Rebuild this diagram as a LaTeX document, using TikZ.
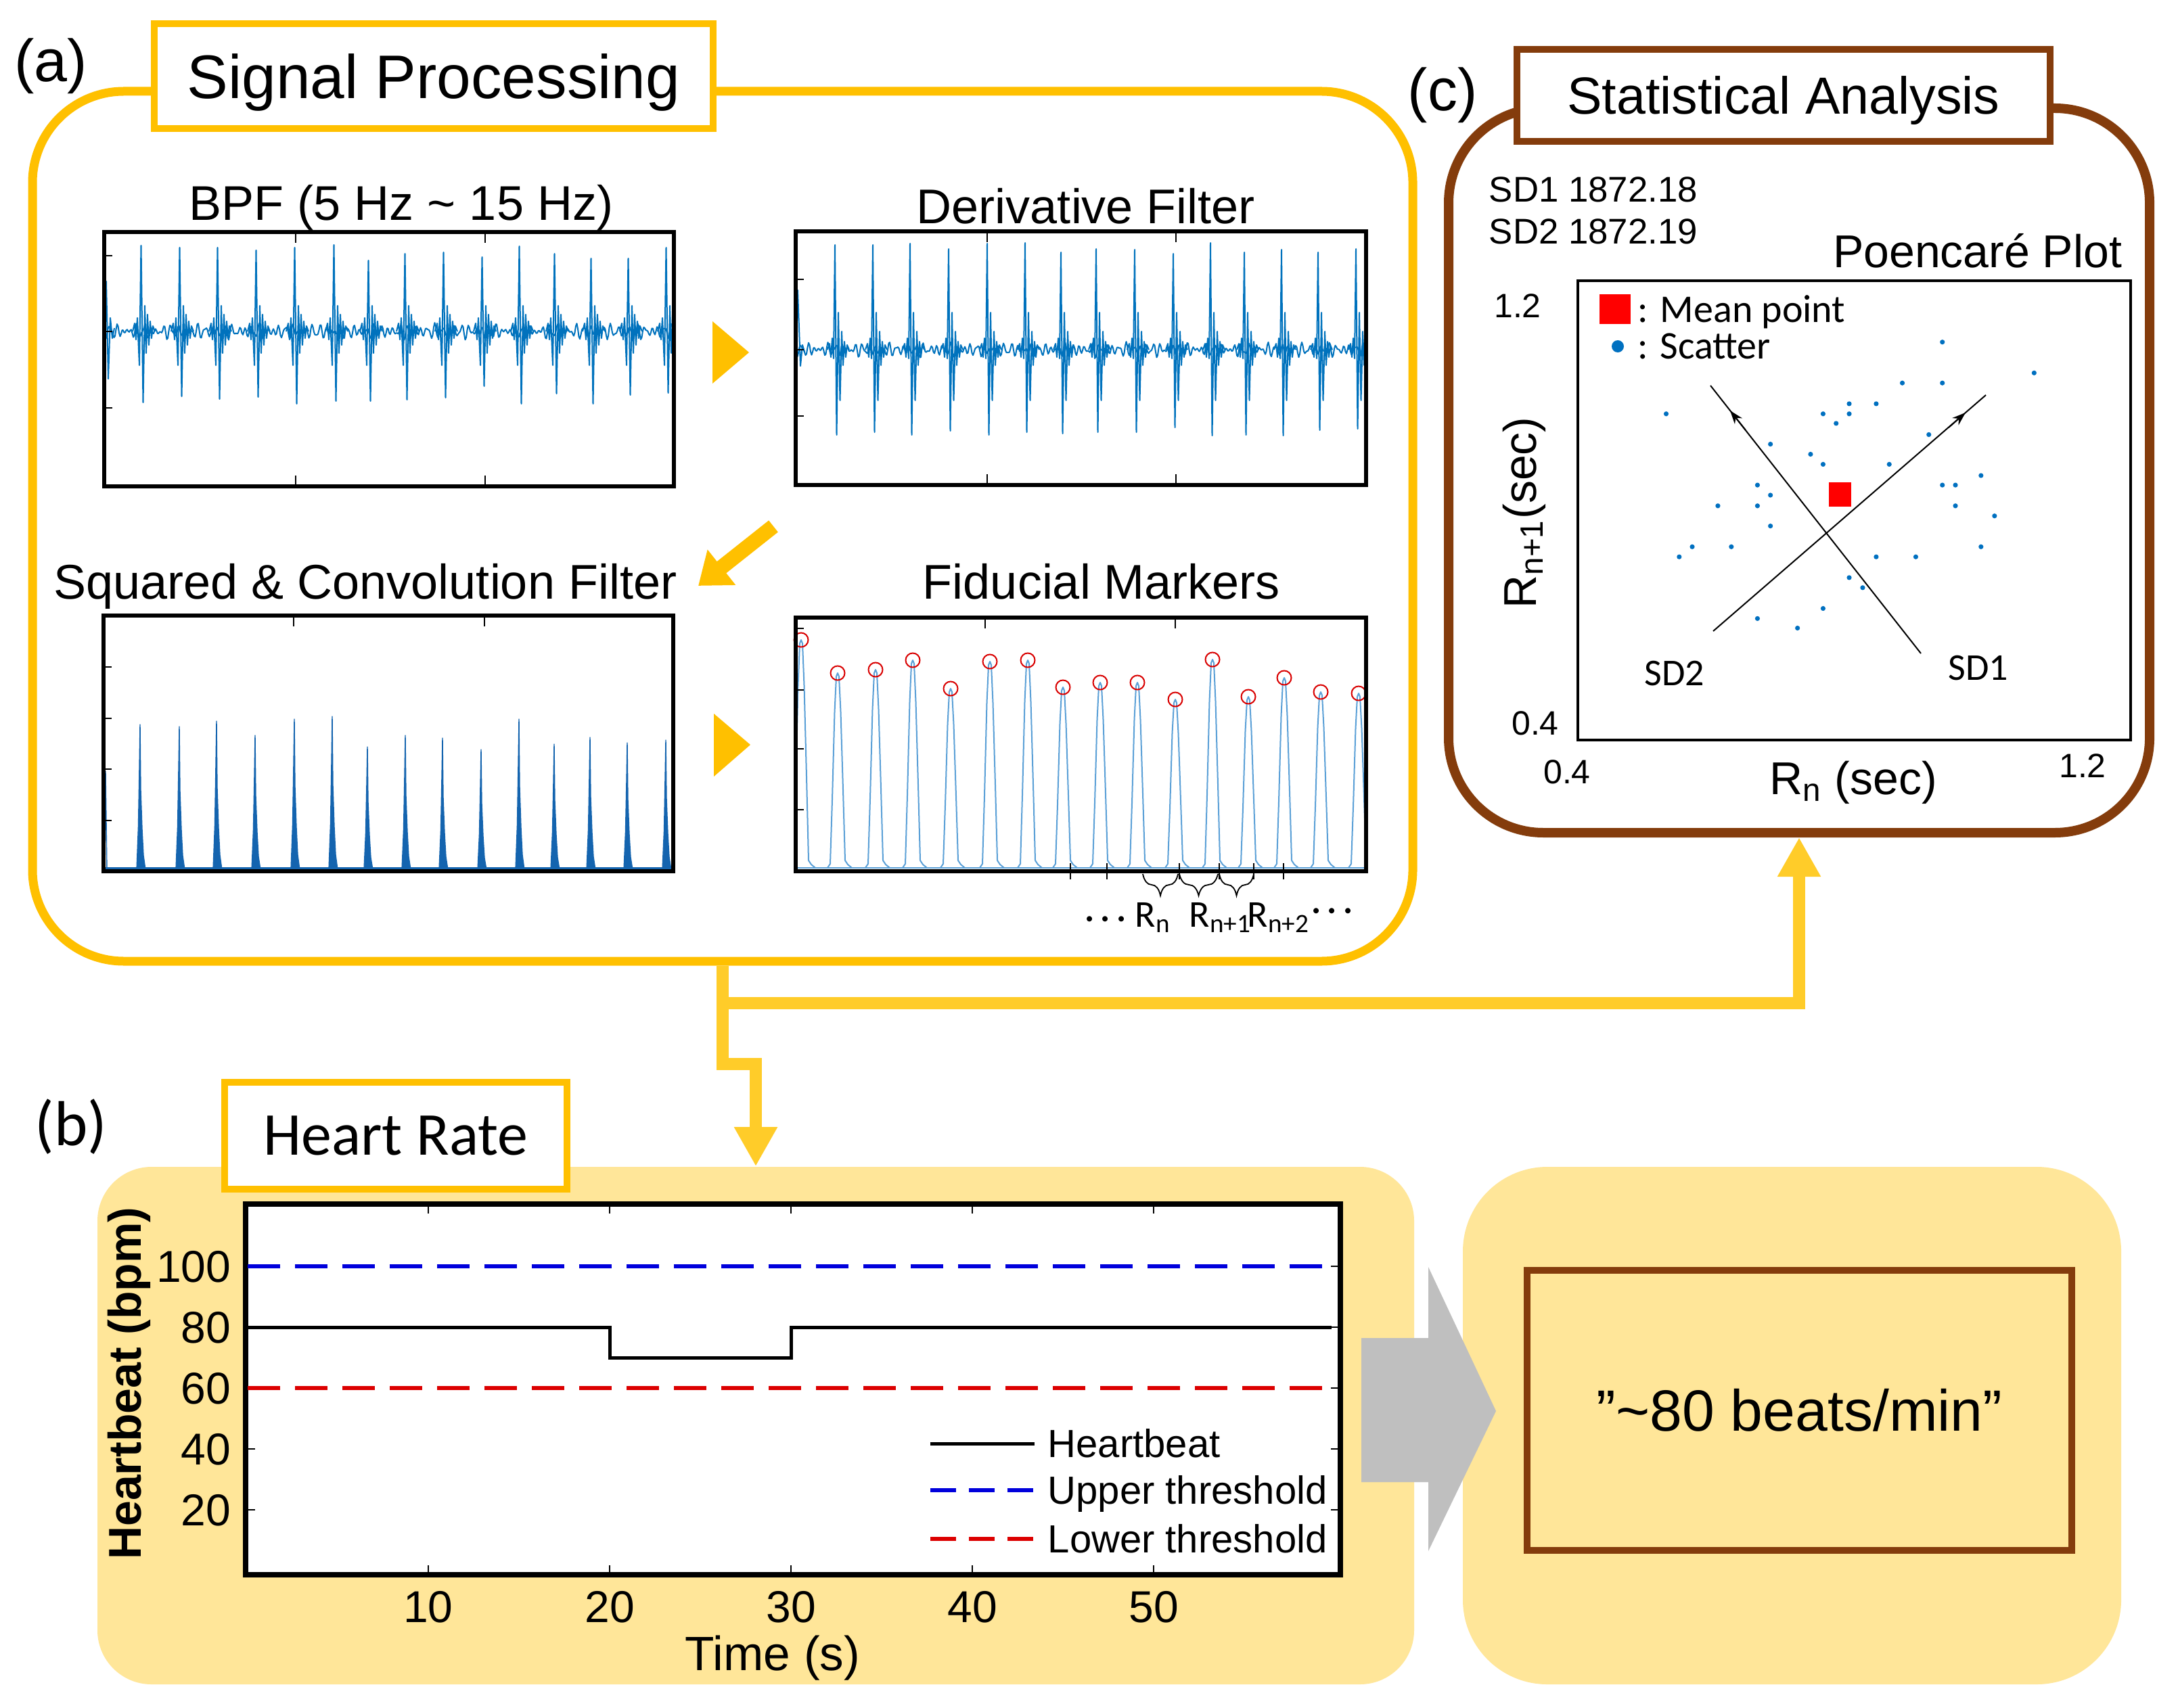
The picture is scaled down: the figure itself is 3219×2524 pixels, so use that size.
\documentclass[tikz,border=0pt]{standalone}
\usepackage{fontspec}
\setmainfont{Liberation Sans}
\newfontfamily\calfont{Carlito}
\usetikzlibrary{arrows.meta,decorations.pathreplacing}
\definecolor{gold}{HTML}{FFC000}
\definecolor{conncol}{HTML}{FFCC29}
\definecolor{brownc}{HTML}{843C0C}
\definecolor{paleyel}{HTML}{FFE699}
\definecolor{greyarr}{HTML}{BFBFBF}
\definecolor{sigblue}{RGB}{0,114,189}
\definecolor{sqblue}{RGB}{20,100,175}
\definecolor{fidblue}{RGB}{91,160,215}
\definecolor{dotblue}{RGB}{0,112,192}
\definecolor{hrblue}{RGB}{0,0,220}
\definecolor{hrred}{RGB}{220,0,0}
\newcommand{\fsz}[1]{\fontsize{#1}{#1}\selectfont}
\begin{document}
\begin{tikzpicture}[x=0.25pt,y=-0.25pt,
  capc/.style={inner sep=0pt, font=\fsz{#1}, text height={0.716*#1}, text depth=0pt},
  calcap/.style={inner sep=0pt, font=\calfont\fsz{#1}, text height={0.644*#1}, text depth=0pt},
  sig/.style={draw=sigblue, line width=0.5pt, line join=round},
  fidsig/.style={draw=fidblue, line width=0.5pt, line join=round},
  pframe/.style={draw=black, line width=1.3pt},
  tk/.style={draw=black, line width=0.45pt},
  conn/.style={draw=conncol, line width=4.5pt},
  conntip/.style={-{Triangle[width=15pt,length=14.5pt]}},
  ptitle/.style={capc=18pt},
  hrtick/.style={capc=16.5pt},
  legtxt/.style={capc=14.5pt, anchor=west},
  pctick/.style={capc=12.5pt},
]
\useasboundingbox (0,0) rectangle (3219,2524);
\fill[white] (0,0) rectangle (3219,2524);

% ================= (a) Signal processing =================
\node[draw=gold, line width=3.25pt, rounded corners=33.75pt, minimum width=510pt, minimum height=321.5pt, inner sep=0pt] (procbox) at (1068,778) {};
\node[draw=gold, fill=white, line width=2.5pt, minimum width=206.5pt, minimum height=38.75pt, capc=22.75pt] (sptitle) at (641,112.5) {Signal Processing};
\node[inner sep=0pt, font=\fsz{22pt}] (alabel) at (75,98) {(a)};

% titles
\node[ptitle] (bpft) at (593,300) {BPF (5 Hz \textasciitilde\ 15 Hz)};
\node[ptitle] (dert) at (1605,305) {Derivative Filter};
\node[ptitle] (sqt) at (540,860) {Squared \& Convolution Filter};
\node[ptitle] (fidt) at (1628,860) {Fiducial Markers};

% BPF plot
\begin{scope}
\clip (154,343) rectangle (996,719);
\draw[sig] plot[domain=0:840, samples=561] ({155+\x},{490+5*sin(36*mod(\x,10))+4*sin(51.43*mod(\x,7)+40)+4*sin(27.69*mod(\x,13)+80)});
\draw[sig] (155,490) -- (157,416) -- (160,560) -- (163,470) -- (166,500) -- (169,485);
\foreach \x/\t/\b in {210/363/595, 267/366/586, 323/366/590, 380/370/587, 437/366/597, 495/362/593, 546/385/593, 600/375/591, 657/373/588, 714/380/571, 769/364/597, 821/375/582, 875/382/597, 930/382/584, 986/366/581}
  \draw[sig] (\x-14,490) -- (\x-11,478) -- (\x-9,502) -- (\x-7,470) -- (\x-4,540) -- (\x-1.5,\t) -- (\x+1.5,\b) -- (\x+4,452) -- (\x+6,522) -- (\x+8,465) -- (\x+10,510) -- (\x+12,475) -- (\x+14,500) -- (\x+16,482) -- (\x+19,490);
\end{scope}
\draw[pframe] (154,343) rectangle (996,719);
\foreach \y in {378,490,603} \draw[tk] (154,\y) -- ++(12,0);
\foreach \x in {437,717} {\draw[tk] (\x,343) -- ++(0,16); \draw[tk] (\x,719) -- ++(0,-16);}

% Derivative plot
\begin{scope}
\clip (1176,342) rectangle (2019,717);
\draw[sig] plot[domain=0:840, samples=561] ({1177+\x},{517+5*sin(36*mod(\x,10))+4*sin(51.43*mod(\x,7)+40)+3*sin(27.69*mod(\x,13)+80)});
\draw[sig] (1177,517) -- (1179,429) -- (1183,541) -- (1186,510) -- (1189,520);
\foreach \x/\t/\b in {1235/362/643, 1291/362/639, 1346/360/643, 1403/368/637, 1460/360/643, 1516/359/639, 1569/373/641, 1621/368/639, 1678/369/639, 1735/375/632, 1790/359/644, 1840/373/643, 1895/369/644, 1949/373/636, 2005/368/634}
  \draw[sig] (\x-12,517) -- (\x-9,508) -- (\x-7,528) -- (\x-5,500) -- (\x-3,530) -- (\x-1,\t) -- (\x+1.5,\b) -- (\x+4,462) -- (\x+6.5,592) -- (\x+9,490) -- (\x+11,540) -- (\x+13,505) -- (\x+15,528) -- (\x+17,510) -- (\x+20,517);
\end{scope}
\draw[pframe] (1176,342) rectangle (2019,717);
\foreach \y in {413,517,615} \draw[tk] (1176,\y) -- ++(12,0);
\foreach \x in {1459,1738} {\draw[tk] (\x,342) -- ++(0,16); \draw[tk] (\x,717) -- ++(0,-16);}

% Squared & convolution plot
\begin{scope}
\clip (153,910) rectangle (995,1288);
\foreach \x/\t in {207/1071, 265/1074, 320/1066, 377/1087, 435/1063, 491/1059, 543/1104, 599/1087, 654/1091, 711/1108, 767/1063, 819/1100, 872/1090, 927/1098, 984/1094}
  \filldraw[draw=sqblue, fill=sqblue, line width=0.35pt, line join=round] (\x-5,1286) -- (\x-2.5,{1286-0.3*(1286-\t)}) -- (\x-1,{1286-0.7*(1286-\t)}) -- (\x,\t) -- (\x+1,{1286-0.55*(1286-\t)}) -- (\x+3,{1286-0.28*(1286-\t)}) -- (\x+5,{1286-0.1*(1286-\t)}) -- (\x+8,1286) -- cycle;
\draw[draw=sqblue, line width=0.35pt] (155,1286) -- (156,1140) -- (158,1286);
\draw[draw=sqblue, line width=1pt] (153,1284) -- (995,1284);
\end{scope}
\draw[pframe] (153,910) rectangle (995,1288);
\foreach \y in {986,1062,1137,1213} \draw[tk] (153,\y) -- ++(12,0);
\foreach \x in {434,716} \draw[tk] (\x,910) -- ++(0,16);

% Fiducial markers plot
\begin{scope}
\clip (1176,913) rectangle (2019,1288);
\draw[fidsig] (1176,1283) -- (2019,1283);
\foreach \x/\t in {1184/946, 1238/995, 1294/990, 1349/976, 1405/1018, 1463/978, 1519/976, 1571/1016, 1626/1009, 1681/1009, 1737/1034, 1792/975, 1845/1030, 1898/1002, 1952/1023, 2008/1025}
{
  \draw[fidsig] (\x-15,1283) -- (\x-11,1277) -- (\x-8,{1283-0.35*(1283-\t)}) -- (\x-4.5,{1283-0.8*(1283-\t)}) -- (\x-2,{\t+5}) -- (\x,\t) -- (\x+2,{\t+5}) -- (\x+4.5,{1283-0.8*(1283-\t)}) -- (\x+8,{1283-0.4*(1283-\t)}) -- (\x+11,1272) -- (\x+15,1278) -- (\x+21,1283);
}
\end{scope}
\foreach \x/\t in {1184/946, 1238/995, 1294/990, 1349/976, 1405/1018, 1463/978, 1519/976, 1571/1016, 1626/1009, 1681/1009, 1737/1034, 1792/975, 1845/1030, 1898/1002, 1952/1023, 2008/1025}
  \draw[red!85!black, line width=0.5pt] (\x,\t) circle[radius=10.5];
\draw[pframe] (1176,913) rectangle (2019,1288);
\foreach \y in {929,1020,1107,1197} \draw[tk] (1176,\y) -- ++(12,0);
\foreach \x in {1456,1737} \draw[tk] (\x,913) -- ++(0,16);
\foreach \x in {1582,1636,1743,1802,1853,1897} \draw[tk] (\x,1276) -- (\x,1300);
\draw[tk] (1560,1288) -- (1913,1288);
\foreach \a/\b in {1689/1741,1743/1800,1802/1853}
  \draw[tk, decorate, decoration={brace, mirror, amplitude=8pt}] (\a,1292) -- (\b,1292);
\node[calcap=14pt] (dots1) at (1634,1356) {\textperiodcentered\,\textperiodcentered\,\textperiodcentered};
\node[calcap=14pt, anchor=west] (rn) at (1677,1352) {R\textsubscript{n}};
\node[calcap=14pt, anchor=west] (rn1) at (1757,1352) {R\textsubscript{n+1}};
\node[calcap=14pt, anchor=west] (rn2) at (1843,1352) {R\textsubscript{n+2}};
\node[calcap=14pt] (dots2) at (1969,1344) {\textperiodcentered\,\textperiodcentered\,\textperiodcentered};

% process pointers
\fill[gold] (1053,475) -- (1107,521) -- (1053,567) -- cycle;
\fill[gold] (1055,1055) -- (1109,1101) -- (1055,1148) -- cycle;
\draw[gold, line width=5.5pt, -{Triangle[width=16pt,length=11pt]}] (1143,778) -- (1032,866);

% ================= (c) Statistical analysis =================
\node[draw=brownc, line width=3.5pt, rounded corners=35pt, minimum width=259pt, minimum height=267.75pt, inner sep=0pt] (statbox) at (2659,695.5) {};
\node[draw=brownc, fill=white, line width=2.5pt, minimum width=197pt, minimum height=34pt, capc=19.3pt] (sttitle) at (2636,141) {Statistical Analysis};
\node[inner sep=0pt, font=\fsz{22pt}] (clabel) at (2132,141) {(c)};
\node[capc=13.2pt, anchor=west] (sd1v) at (2200,280) {SD1 1872.18};
\node[capc=13.2pt, anchor=west] (sd2v) at (2200,342) {SD2 1872.19};
\node[capc=17pt, anchor=east] (pctitle) at (3137,371) {Poencaré Plot};
\draw[line width=0.9pt] (2332,415) rectangle (3149,1094);
\node[pctick] (y12) at (2243,452) {1.2};
\node[pctick] (y04) at (2269,1069) {0.4};
\node[pctick] (x04) at (2316,1141) {0.4};
\node[pctick] (x12) at (3078,1132) {1.2};
\node[capc=17pt] (xlab) at (2739,1150) {R\textsubscript{n} (sec)};
\node[capc=17pt, rotate=90] (ylab) at (2246,758) {R\textsubscript{n+1}(sec)};
\foreach \px/\py in {2462.5/611.8, 2481.8/823.2, 2501.0/808.3, 2538.9/747.8, 2558.8/808.3, 2597.4/717.1, 2597.4/747.8, 2597.4/914.4, 2616.6/656.6, 2616.6/732.0, 2616.6/777.6, 2656.6/928.5, 2675.9/671.5, 2694.4/611.8, 2694.4/686.4, 2694.4/899.5, 2713.7/625.9, 2733.0/596.9, 2733.0/611.8, 2733.0/853.9, 2752.9/868.8, 2772.9/596.9, 2772.9/823.2, 2792.2/686.4, 2811.5/566.2, 2831.4/823.2, 2850.7/642.5, 2870.7/505.7, 2870.7/566.2, 2870.7/717.1, 2890.0/717.1, 2890.0/747.8, 2927.8/703.0, 2927.8/808.3, 2947.8/762.7, 3006.3/551.3}
  \fill[dotblue] (\px,\py) circle[radius=3.6];
\draw[line width=0.5pt] (2532,933) -- (2935,584);
\draw[line width=0.5pt, -{Stealth[length=5pt,width=3.5pt]}] (2880,632) -- (2905,610);
\draw[line width=0.5pt] (2839,966) -- (2528,570);
\draw[line width=0.5pt, -{Stealth[length=5pt,width=3.5pt]}] (2580,636) -- (2557,607);
\fill[red] (2703,713) rectangle (2736,749);
\fill[red] (2364,435) rectangle (2410,479);
\fill[dotblue] (2391,512) circle[radius=9];
\node[calcap=14.5pt, anchor=west] (legmean) at (2420,458) {: Mean point};
\node[calcap=14.5pt, anchor=west] (legsc) at (2420,512) {: Scatter};
\node[calcap=14pt] (sd2l) at (2475,995) {SD2};
\node[calcap=14pt] (sd1l) at (2924,987) {SD1};

% ================= (b) Heart rate =================
\node[fill=paleyel, rounded corners=20pt, minimum width=486.5pt, minimum height=191.25pt, inner sep=0pt] (hrbox) at (1117,2107.5) {};
\node[fill=paleyel, rounded corners=31.25pt, minimum width=243.25pt, minimum height=191.25pt, inner sep=0pt] (resbox) at (2648.5,2107.5) {};
\node[draw=gold, fill=white, line width=2.5pt, minimum width=126.5pt, minimum height=39.5pt, calcap=22.5pt] (hrtitle) at (585,1679) {Heart Rate};
\node[inner sep=0pt, font=\calfont\fsz{23.5pt}] (blabel) at (105,1666) {(b)};

% connectors
\coordinate (jog1) at (1068,1573);
\coordinate (jog2) at (1117,1573);
\coordinate (branch) at (1068,1483);
\draw[conn, conntip] (procbox.south) -- (jog1) -- (jog2) -- (hrbox.north);
\draw[conn, conntip] (branch) -| (statbox.south);

% heart rate plot
\draw[line width=2pt, fill=white] (363,1780) rectangle (1981,2328);
\foreach \t in {10,20,30,40,50} {
  \draw[tk] ({365+26.8*\t},2328) -- ++(0,-14);
  \draw[tk] ({365+26.8*\t},1780) -- ++(0,14);
  \node[hrtick] at ({365+26.8*\t},2375) {\t};
}
\foreach \v in {20,40,60,80,100} {
  \draw[tk] (363,{2322-4.5*\v}) -- ++(14,0);
  \draw[tk] (1981,{2322-4.5*\v}) -- ++(-14,0);
  \node[hrtick, anchor=east] at (342,{2322-4.5*\v}) {\v};
}
\draw[hrblue, line width=1.5pt, dash pattern=on 12pt off 5.5pt] (366,1872) -- (1968,1872);
\draw[hrred, line width=1.5pt, dash pattern=on 12pt off 5.5pt] (366,2052) -- (1968,2052);
\draw[black, line width=1.25pt] (366,1962) -- (901,1962) -- (901,2007) -- (1169,2007) -- (1169,1962) -- (1968,1962);
\draw[black, line width=1.25pt] (1375,2134) -- (1529,2134);
\draw[hrblue, line width=1.5pt, dash pattern=on 9.5pt off 4.8pt] (1375,2203) -- (1529,2203);
\draw[hrred, line width=1.5pt, dash pattern=on 9.5pt off 4.8pt] (1375,2275) -- (1529,2275);
\node[legtxt] (lg1) at (1548,2134) {Heartbeat};
\node[legtxt] (lg2) at (1548,2203) {Upper threshold};
\node[legtxt] (lg3) at (1548,2275) {Lower threshold};
\node[capc=17.8pt] (tlab) at (1142,2444) {Time (s)};
\node[capc=17pt, font=\bfseries\fsz{17pt}, rotate=90] (hblab) at (184,2045) {Heartbeat (bpm)};

% result
\fill[greyarr] (2012,1978) -- (2111,1978) -- (2111,1873) -- (2211,2086) -- (2111,2293) -- (2111,2191) -- (2012,2191) -- cycle;
\node[draw=brownc, line width=2.5pt, minimum width=201.25pt, minimum height=103.5pt, capc=21.5pt] (resval) at (2659.5,2085) {”\textasciitilde 80 beats/min”};
\end{tikzpicture}
\end{document}
